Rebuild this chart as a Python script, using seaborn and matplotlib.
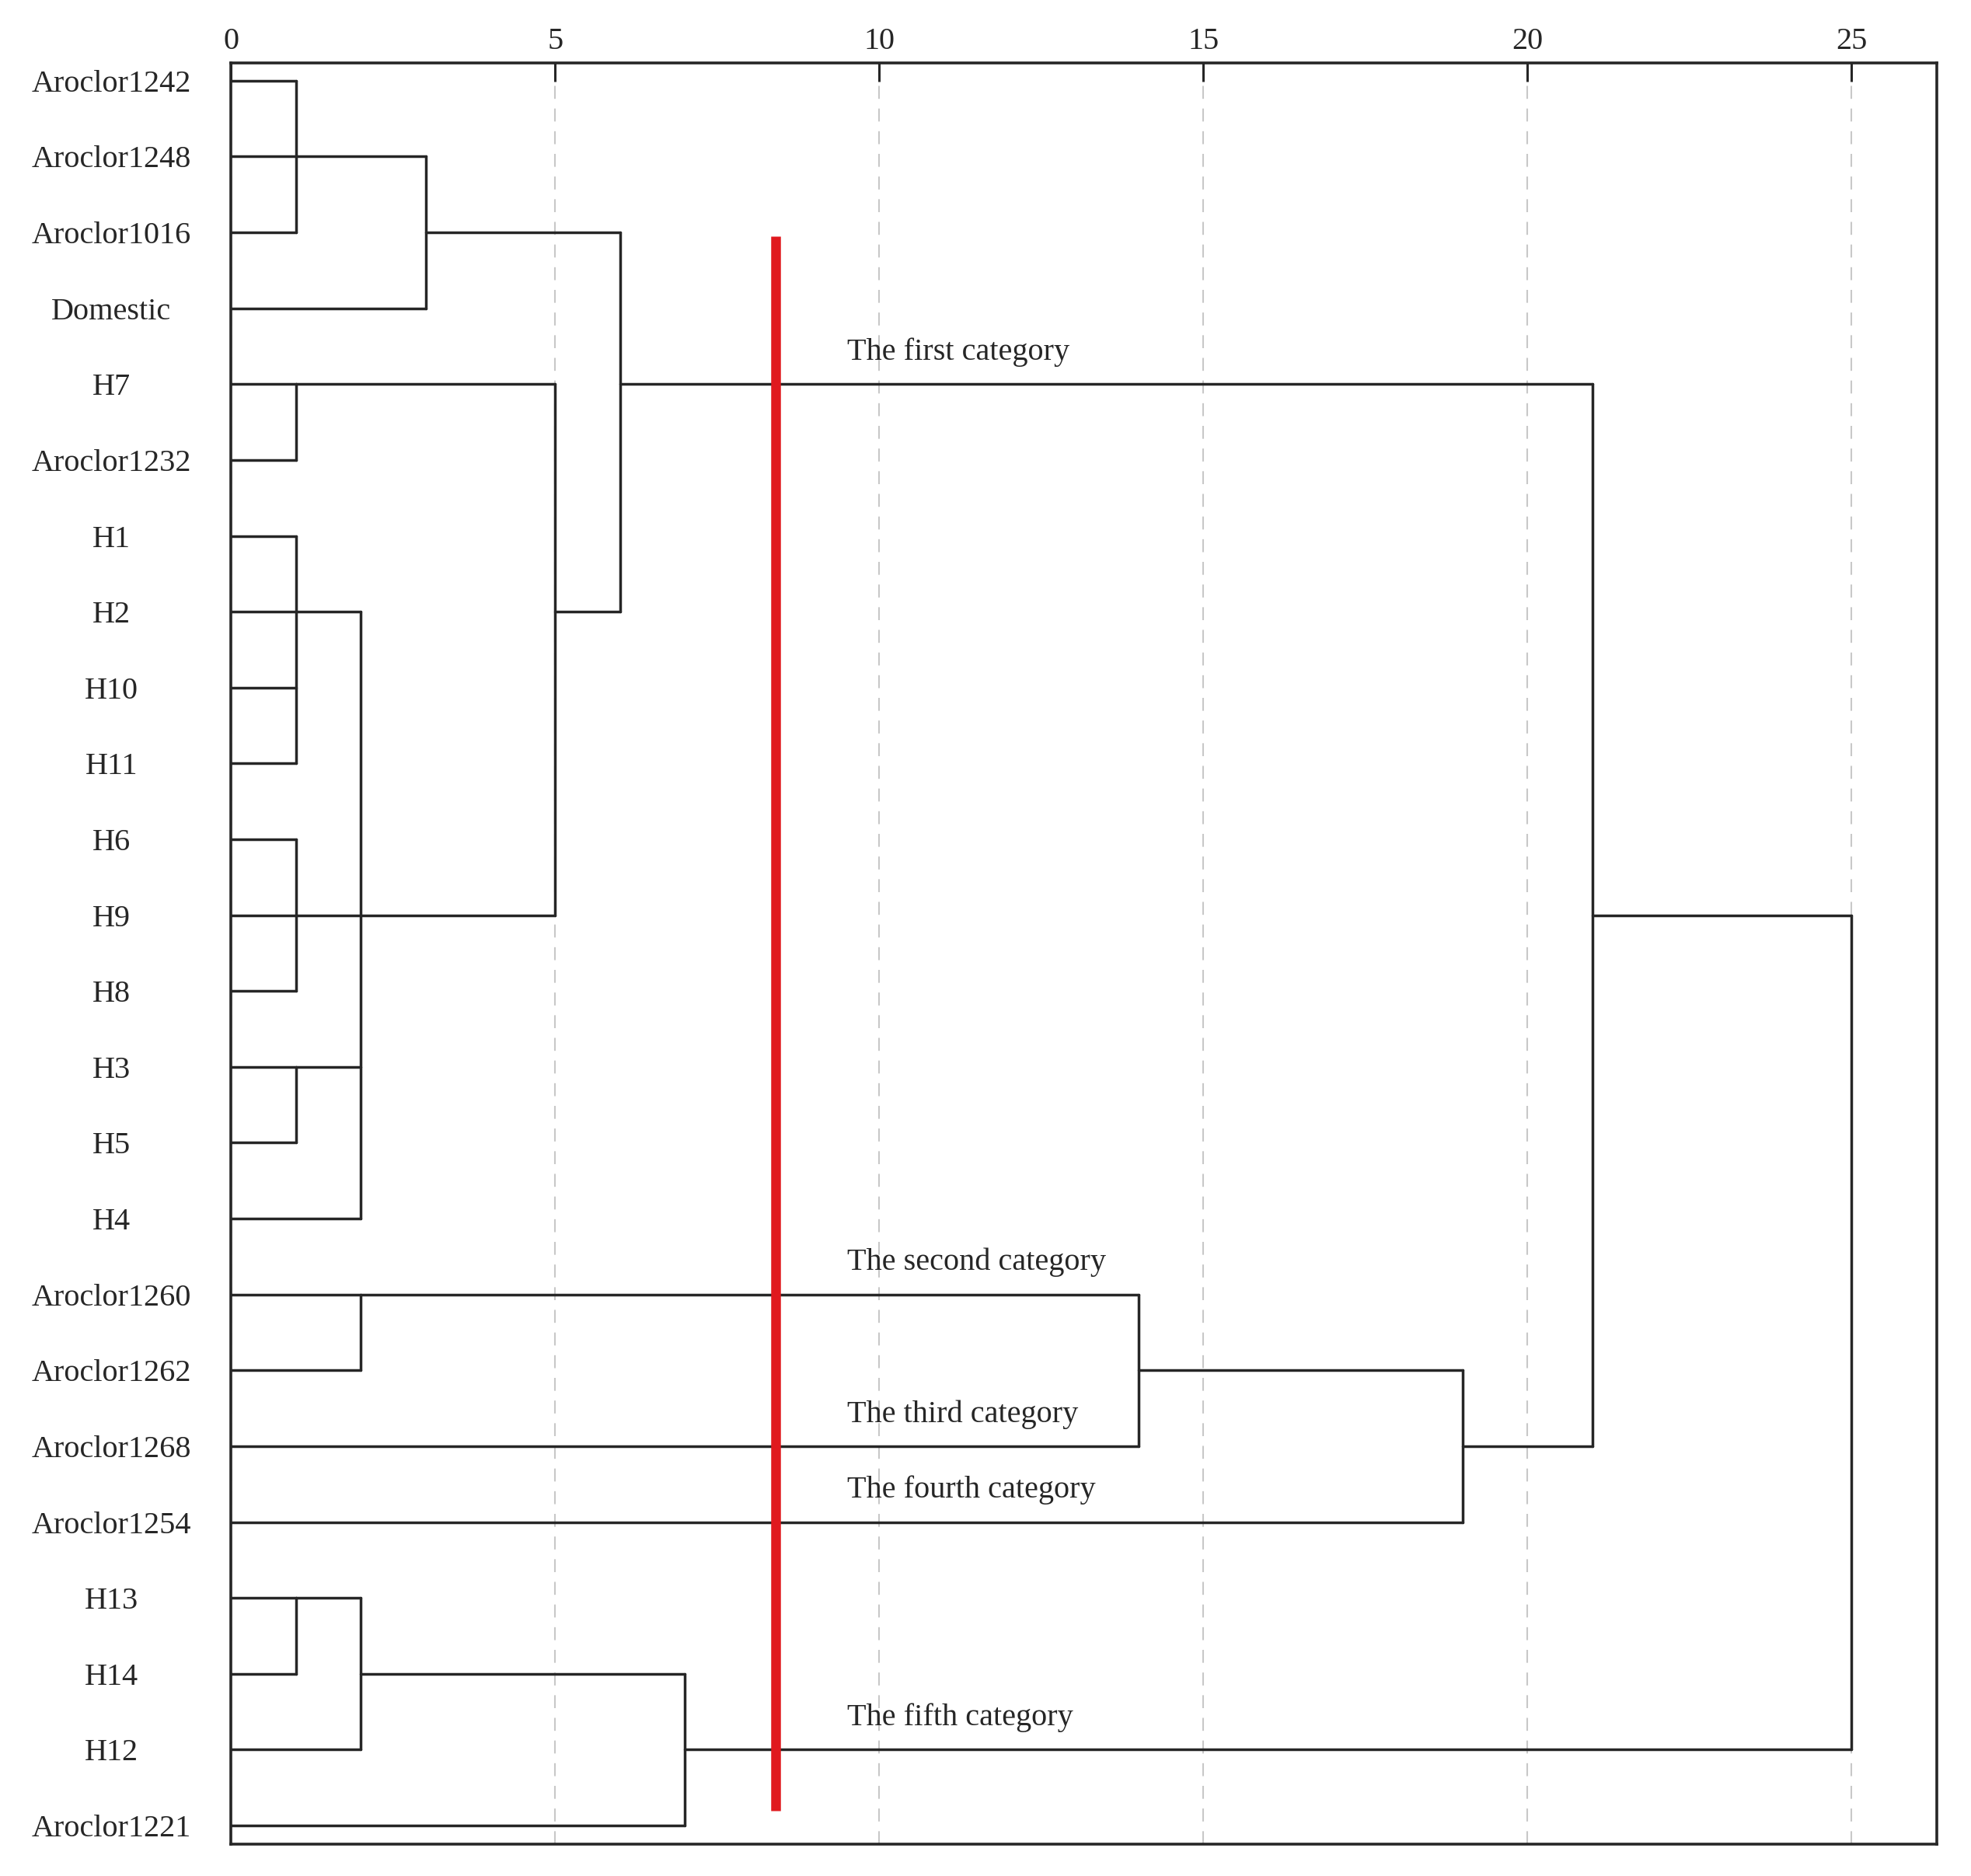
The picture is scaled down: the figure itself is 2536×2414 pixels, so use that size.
import pandas as pd
import matplotlib.pyplot as plt
import seaborn as sns

sns.set_theme(style="white")
plt.rcParams['font.family'] = ['Liberation Serif', 'DejaVu Serif']

# leaves, top to bottom
leaves = ["Aroclor1242", "Aroclor1248", "Aroclor1016", "Domestic", "H7",
          "Aroclor1232", "H1", "H2", "H10", "H11", "H6", "H9", "H8", "H3",
          "H5", "H4", "Aroclor1260", "Aroclor1262", "Aroclor1268",
          "Aroclor1254", "H13", "H14", "H12", "Aroclor1221"]

# merges (node ids: leaves 0..23, then 24, 25, ... in this order)
merge_children = [
    [0, 1, 2],          # 24
    [24, 3],            # 25
    [4, 5],             # 26
    [6, 7, 8, 9],       # 27
    [10, 11, 12],       # 28
    [13, 14],           # 29
    [27, 28, 29, 15],   # 30
    [26, 30],           # 31
    [25, 31],           # 32
    [16, 17],           # 33
    [33, 18],           # 34
    [34, 19],           # 35
    [32, 35],           # 36
    [20, 21],           # 37
    [37, 22],           # 38
    [38, 23],           # 39
    [36, 39],           # 40
]
merge_dist = [1, 3, 1, 1, 1, 1, 2, 5, 6, 2, 14, 19, 21, 1, 2, 7, 25]
# row where the joined branch carries on to the right
merge_row = [1, 2, 4, 7, 11, 13, 11, 7, 4, 16, 17, 18, 11, 20, 21, 22, 11]

cut_distance = 8.4
cut_rows = (2.05, 22.8)

category_names = ["The first category", "The second category", "The third category",
                  "The fourth category", "The fifth category"]
category_rows = [4, 16, 18, 19, 22]
category_x = 9.5

# build the bracket segments
node_row = {i: i for i in range(len(leaves))}
node_x = {i: 0 for i in range(len(leaves))}
rows = []
seg = 0
for k, (kids, d, r) in enumerate(zip(merge_children, merge_dist, merge_row)):
    nid = len(leaves) + k
    for c in kids:
        rows.append((seg, node_x[c], node_row[c]))
        rows.append((seg, d, node_row[c]))
        seg += 1
    ys = [node_row[c] for c in kids]
    rows.append((seg, d, min(ys)))
    rows.append((seg, d, max(ys)))
    seg += 1
    node_row[nid] = r
    node_x[nid] = d
seg_df = pd.DataFrame(rows, columns=["seg", "x", "y"])

fig = plt.figure(figsize=(25.36, 24.14), dpi=100)
ax = fig.add_axes([0.1173, 0.0168, 0.8655, 0.9495])

sns.lineplot(data=seg_df, x="x", y="y", units="seg", estimator=None, sort=False,
             color="#262626", linewidth=2.5, ax=ax, legend=False)

cut_df = pd.DataFrame({"x": [cut_distance, cut_distance], "y": list(cut_rows)})
sns.lineplot(data=cut_df, x="x", y="y", estimator=None, sort=False, color="#e0191e",
             linewidth=9, ax=ax, legend=False, solid_capstyle="butt")

for name, r in zip(category_names, category_rows):
    ax.text(category_x, r - 0.42, name, fontsize=29, color="#262626",
            ha="left", va="center")

ax.set_xlim(0, 26.32)
ax.set_ylim(23.25, -0.23)
ax.set_xlabel("")
ax.set_ylabel("")

ax.xaxis.tick_top()
ax.set_xticks([0, 5, 10, 15, 20, 25])
ax.tick_params(axis="x", direction="in", length=17, width=2.2, pad=7,
               labelsize=29, colors="#262626")
ax.set_yticks(range(len(leaves)))
ax.set_yticklabels(leaves, ha="center")
ax.tick_params(axis="y", length=0, pad=111, labelsize=29, colors="#262626")

ax.grid(axis="x", linestyle=(0, (8, 6)), color="#c8c8c8", linewidth=1.5)
ax.grid(axis="y", visible=False)
ax.set_axisbelow(True)

for s in ax.spines.values():
    s.set_color("#262626")
    s.set_linewidth(2.6)

fig.savefig("out.png", dpi=100, facecolor="white")
